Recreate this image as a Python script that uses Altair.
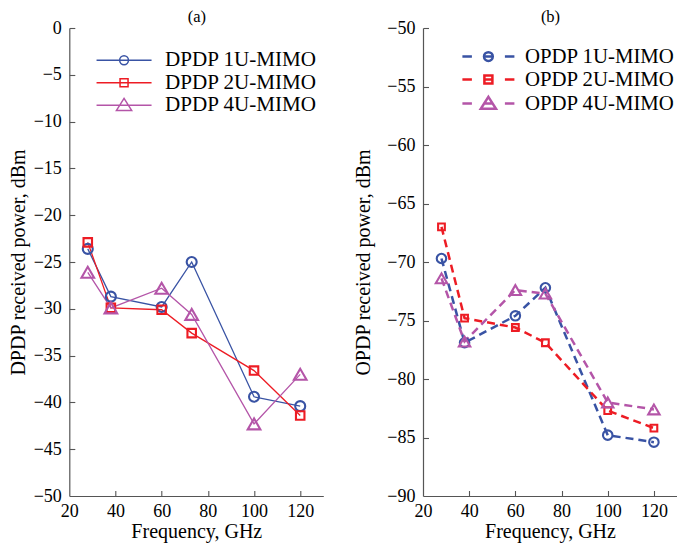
import altair as alt
import pandas as pd

freq = [28, 38, 60, 73, 100, 120]

dpdp_1u = [-23.6, -28.7, -29.8, -25.0, -39.4, -40.4]
dpdp_2u = [-22.9, -29.9, -30.1, -32.6, -36.6, -41.4]
dpdp_4u = [-26.1, -29.9, -27.8, -30.6, -42.3, -37.0]

opdp_1u = [-69.7, -76.9, -74.6, -72.2, -84.8, -85.4]
opdp_2u = [-67.0, -74.8, -75.6, -76.9, -82.7, -84.2]
opdp_4u = [-71.4, -76.8, -72.4, -72.7, -82.0, -82.6]

left_series = ["DPDP 1U-MIMO", "DPDP 2U-MIMO", "DPDP 4U-MIMO"]
right_series = ["OPDP 1U-MIMO", "OPDP 2U-MIMO", "OPDP 4U-MIMO"]
colors = ["#3953a4", "#ed1c24", "#b455a8"]
shapes = ["circle", "square", "triangle-up"]

x_ticks = [20, 40, 60, 80, 100, 120]
left_yticks = [0, -5, -10, -15, -20, -25, -30, -35, -40, -45, -50]
right_yticks = [-50, -55, -60, -65, -70, -75, -80, -85, -90]

FONT = "Liberation Serif"
W, H = 254, 468
AXC = "#555555"


def long_df(series, values):
    rows = []
    for s, vals in zip(series, values):
        for f, v in zip(freq, vals):
            rows.append({"freq": f, "power": v, "series": s})
    return pd.DataFrame(rows)


circ = "M-2.2,0A2.2,2.2,0,1,1,2.2,0A2.2,2.2,0,1,1,-2.2,0Z"
sqr = "M-2,-2H2V2H-2Z"
tri = "M0,-3.4L3.8,2.6H-3.8Z"
solid = "M-13.75,0H13.75"
dashed = "M-13,0H-8.25M-2.4,0H2.4M8.25,0H13"
left_paths = [solid + circ, solid + sqr, solid + tri]
right_paths = [dashed + circ, dashed + sqr, dashed + tri]


def panel(df, series, ydom, yticks, paths, lw, dash, msizes, msw, lx, ly,
          loff, lfs, sym_sw, rowpad, ytitle, ytitle_x, title):
    xs = alt.Scale(domain=[20, 130], nice=False, zero=False)
    ys = alt.Scale(domain=ydom, nice=False, zero=False)
    main_x = alt.Axis(values=x_ticks, title="Frequency, GHz", titleFont=FONT,
                      titleFontSize=20, titleFontWeight="normal", titleColor="black",
                      titleX=W / 2, titleY=41, titleBaseline="alphabetic",
                      titleAlign="center", labelFont=FONT, labelFontSize=18,
                      labelColor="black", labelPadding=6, ticks=False, tickSize=0,
                      domainColor=AXC, domainWidth=1.2, grid=False,
                      labelFlush=False, labelOverlap=False)
    main_y = alt.Axis(values=yticks, title=ytitle, titleFont=FONT, titleFontSize=20,
                      titleFontWeight="normal", titleColor="black", titleX=ytitle_x,
                      titleY=H / 2, titleAngle=270, titleBaseline="alphabetic",
                      titleAlign="center", labelFont=FONT, labelFontSize=18,
                      labelColor="black", labelPadding=8, ticks=False, tickSize=0,
                      domainColor=AXC, domainWidth=1.2, grid=False,
                      labelFlush=False, labelOverlap=False)
    # inward ticks; the top-oriented axis (moved to the bottom edge) also carries the panel title
    tick_x = alt.Axis(orient="top", offset=-H, values=x_ticks[1:], labels=False,
                      domain=False, ticks=True, tickSize=5.5, tickColor=AXC,
                      tickWidth=1.1, grid=False, title=title, titleFont=FONT,
                      titleFontSize=16.5, titleFontWeight="normal", titleColor="black",
                      titleX=W / 2, titleY=-H - 6.5, titleAngle=0,
                      titleBaseline="alphabetic", titleAlign="center")
    tick_y = alt.Axis(orient="right", offset=-W, values=yticks[:-1], labels=False,
                      domain=False, ticks=True, tickSize=5.5, tickColor=AXC,
                      tickWidth=1.1, grid=False, title=None)

    layers = []
    for i, (s, c) in enumerate(zip(series, colors)):
        lkw = dict(color=c, strokeWidth=lw)
        if dash:
            lkw["strokeDash"] = dash
        layers.append(
            alt.Chart(df).transform_filter(alt.datum.series == s).mark_line(**lkw).encode(
                x=alt.X("freq:Q", scale=xs, axis=main_x if i == 0 else None),
                y=alt.Y("power:Q", scale=ys, axis=main_y if i == 0 else None),
            )
        )
    for s, c, sh, sz in zip(series, colors, shapes, msizes):
        layers.append(
            alt.Chart(df).transform_filter(alt.datum.series == s).mark_point(
                shape=sh, filled=False, color=c, size=sz, strokeWidth=msw, opacity=1
            ).encode(
                x=alt.X("freq:Q", scale=xs, axis=None),
                y=alt.Y("power:Q", scale=ys, axis=None),
            )
        )
    layers.append(
        alt.Chart(df).mark_point(opacity=0).encode(
            x=alt.X("freq:Q", scale=xs, axis=tick_x),
            y=alt.Y("power:Q", scale=ys, axis=tick_y),
        )
    )
    leg = alt.Legend(orient="none", legendX=lx, legendY=ly, title=None,
                     labelFont=FONT, labelFontSize=lfs, labelColor="black",
                     labelOffset=loff, labelLimit=400, symbolSize=16,
                     symbolStrokeWidth=sym_sw, symbolOpacity=1,
                     symbolFillColor="transparent", rowPadding=rowpad)
    layers.append(
        alt.Chart(df).mark_point(opacity=0, filled=False).encode(
            x=alt.X("freq:Q", scale=xs, axis=None),
            y=alt.Y("power:Q", scale=ys, axis=None),
            color=alt.Color("series:N", scale=alt.Scale(domain=series, range=colors), legend=leg),
            shape=alt.Shape("series:N", scale=alt.Scale(domain=series, range=paths), legend=leg),
        )
    )
    return alt.layer(*layers).resolve_axis(x="independent", y="independent").properties(
        width=W, height=H,
    )


left_df = long_df(left_series, [dpdp_1u, dpdp_2u, dpdp_4u])
right_df = long_df(right_series, [opdp_1u, opdp_2u, opdp_4u])

left = panel(left_df, left_series, [-50, 0], left_yticks, left_paths, 1.3, None,
             [100, 72, 160], 2.1, 44.2, 21.7, 30.5, 21.1, 1.5, 0.5,
             "DPDP received power, dBm", -45.3, "(a)")
right = panel(right_df, right_series, [-90, -50], right_yticks, right_paths, 2.5, [8, 5],
              [90, 45, 130], 2.1, 55, 18.2, 26.2, 20.8, 2.5, 1,
              "OPDP received power, dBm", -53.7, "(b)")

chart = alt.hconcat(left, right, spacing=99.7, bounds="flush").resolve_scale(
    color="independent", shape="independent"
).resolve_legend(color="independent", shape="independent").properties(
    padding={"left": 61.3, "top": 20, "right": 607.7, "bottom": 513},
    autosize=alt.AutoSizeParams(type="none"),
    background="white",
).configure_view(strokeWidth=0)

chart.save("out.html", embed_options={"renderer": "svg", "actions": False})
